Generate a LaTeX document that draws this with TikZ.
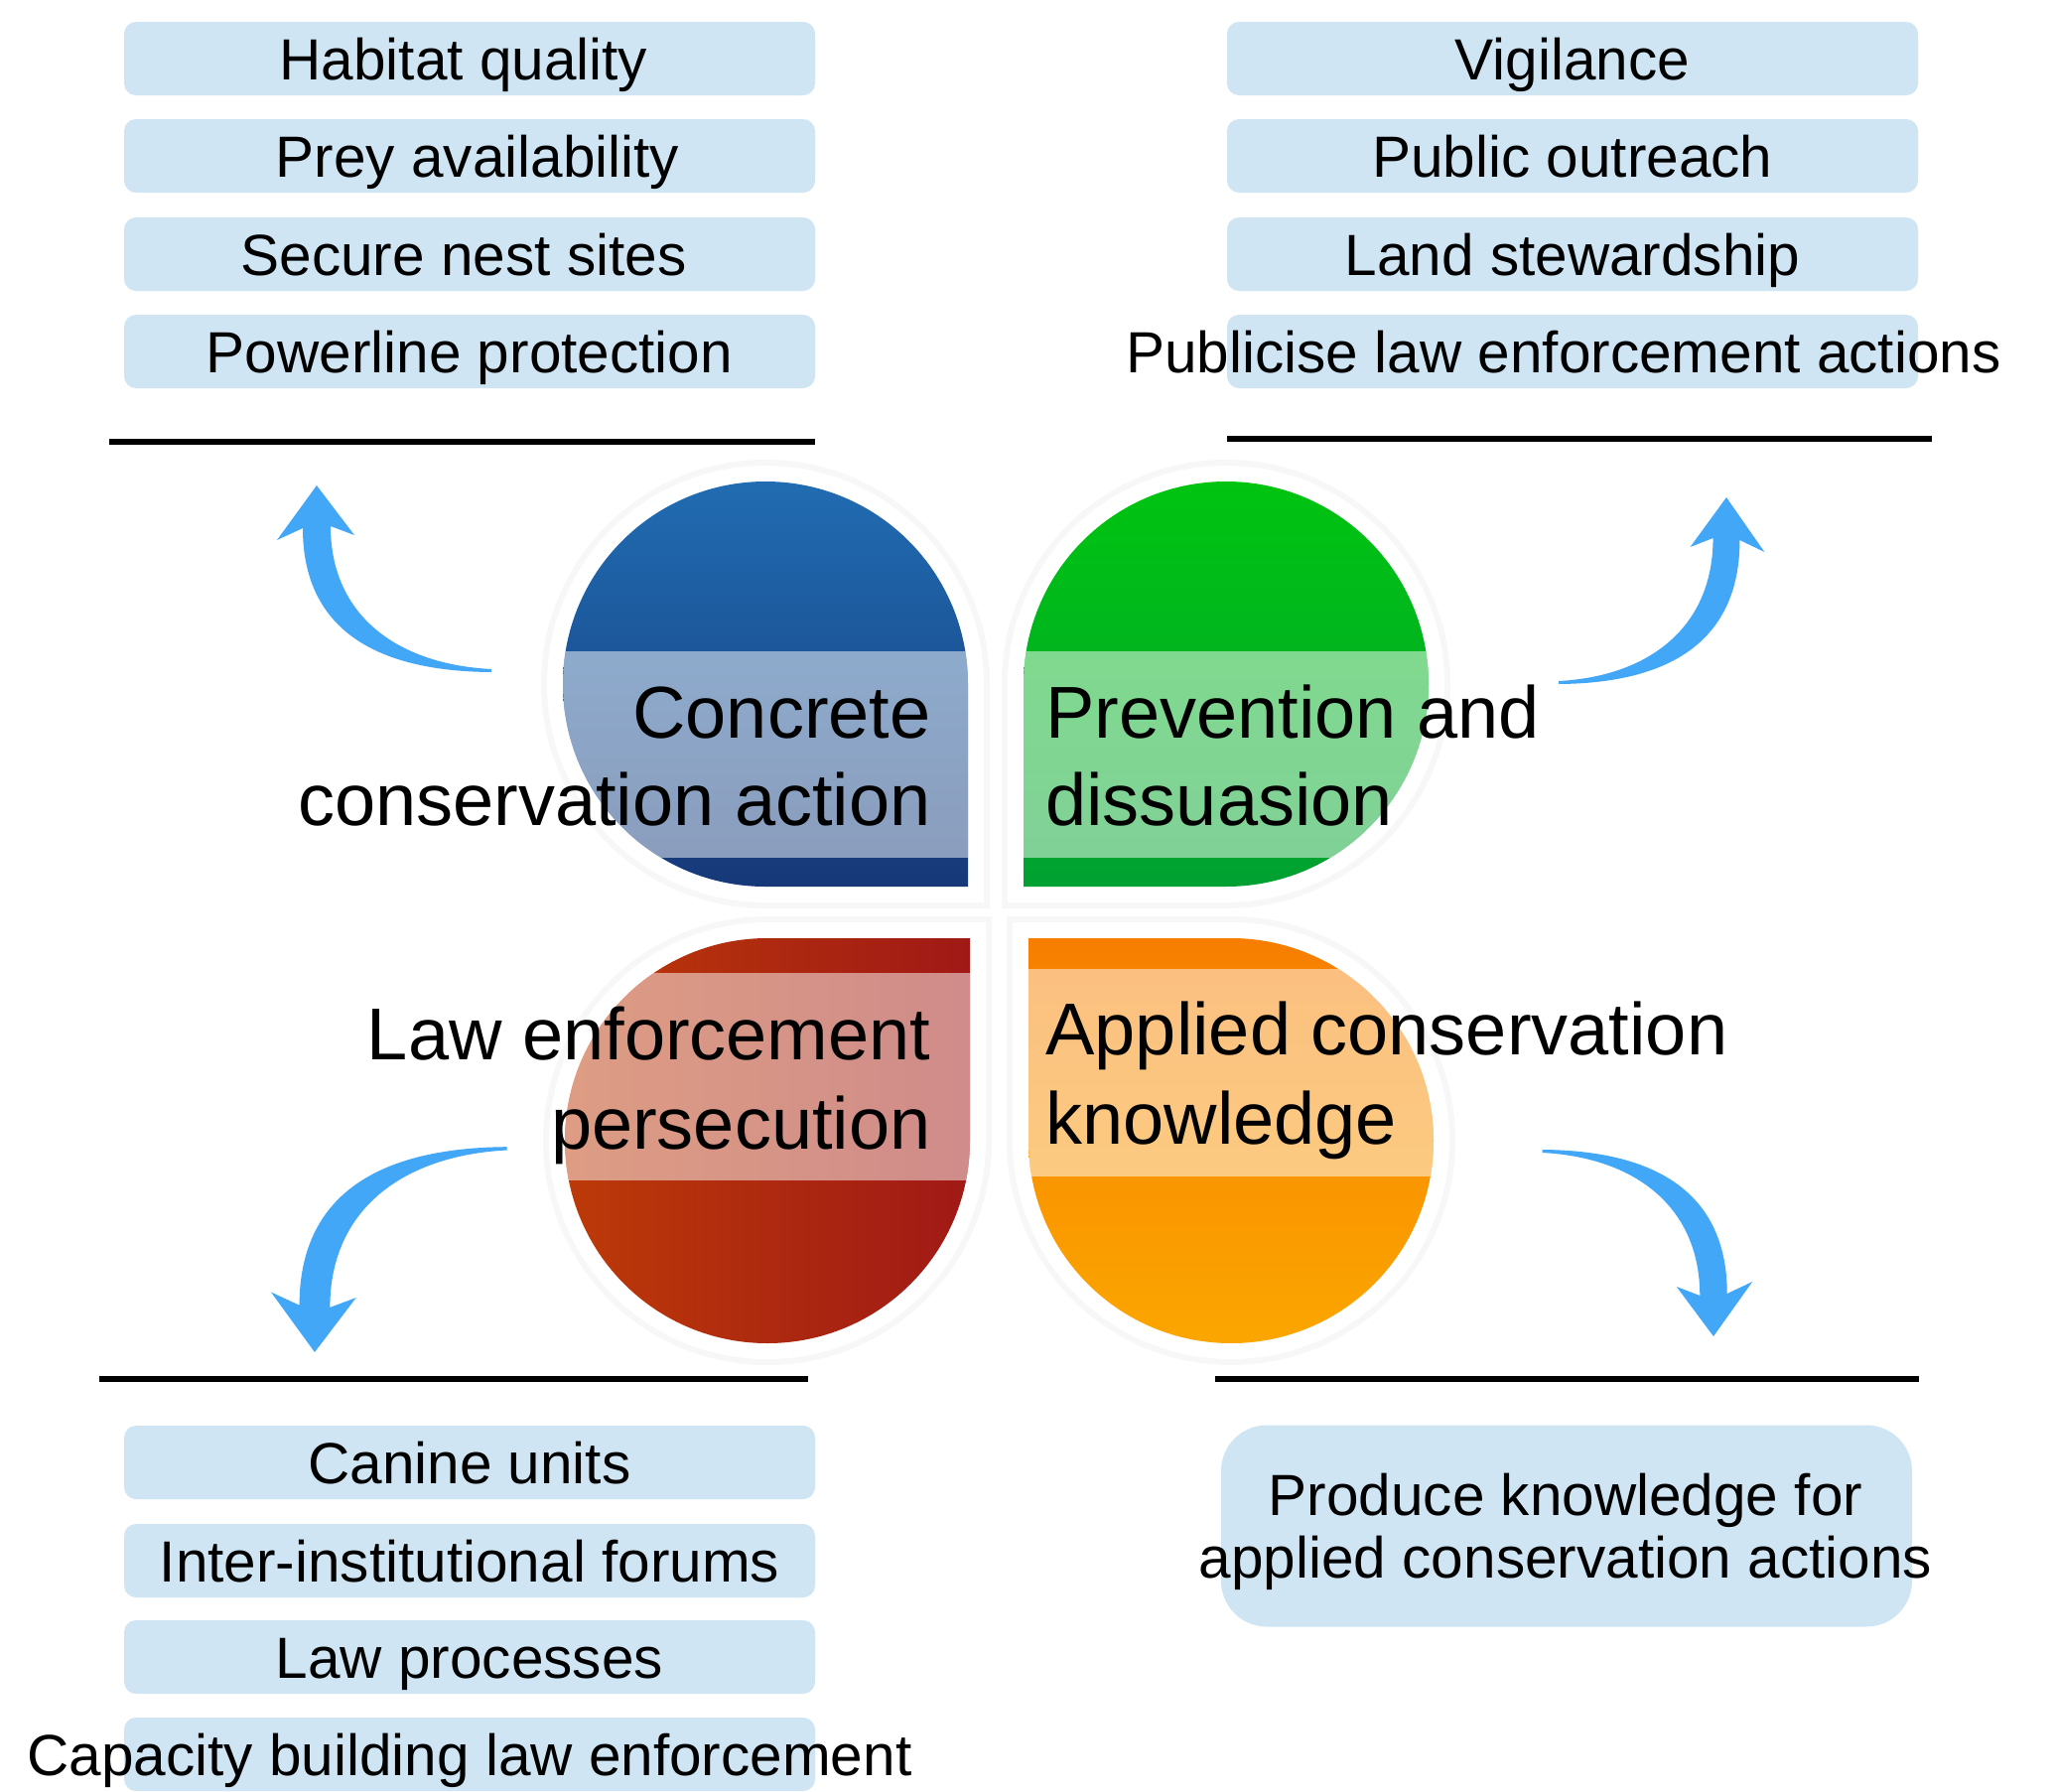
\documentclass[tikz,border=0pt]{standalone}
\usepackage{fontspec}
\setmainfont{Liberation Sans}
\definecolor{boxblue}{RGB}{207,229,243}
\definecolor{arrowblue}{RGB}{66,167,247}
\definecolor{bluetop}{RGB}{33,108,178}
\definecolor{bluebot}{RGB}{22,56,120}
\definecolor{greentop}{RGB}{0,196,16}
\definecolor{greenbot}{RGB}{0,160,50}
\definecolor{redleft}{RGB}{188,58,8}
\definecolor{redright}{RGB}{160,25,22}
\definecolor{orangetop}{RGB}{247,126,0}
\definecolor{orangebot}{RGB}{251,166,0}
% petal: centre x, centre y, radius, sx, sy (square corner direction)
\newcommand\petalpath[5]{(#1+#4*#3,#2) -- (#1+#4*#3,#2+#5*#3) -- (#1,#2+#5*#3) arc[start angle={90*#5}, delta angle={270*#4*#5}, radius=#3] -- cycle}
\newcommand\arrowshape{(-14,43) -- (-40,55) -- (0,0) -- (38,50) -- (14,41) .. controls (14,130) and (80,180) .. (176,185) -- (176,188) .. controls (40,187) and (-14,130) .. (-14,43) -- cycle}
\tikzset{
  box/.style={fill=boxblue, rounded corners=6pt, minimum width=348pt, minimum height=37pt, inner sep=0pt},
  boxtext/.style={font=\fontsize{29.25pt}{31.5pt}\selectfont, inner sep=0pt, text height=21.5pt, text depth=0.5pt},
  petaltext/.style={font=\fontsize{37pt}{44pt}\selectfont, inner sep=0pt},
  rule/.style={line width=2.8pt, black},
  band/.style={fill=white, opacity=0.5},
  halo/.style={fill=black!3},
  arrowfill/.style={fill=arrowblue}
}
\begin{document}
\begin{tikzpicture}[x=0.5pt, y=-0.5pt]
\useasboundingbox (0,0) rectangle (2069,1805);
\fill[white] (0,0) rectangle (2069,1805);

% ---------- halos ----------
\fill[halo] \petalpath{771}{689}{226}{1}{1};
\fill[halo] \petalpath{1235}{689}{226}{-1}{1};
\fill[halo] \petalpath{773}{1149}{226}{1}{-1};
\fill[halo] \petalpath{1240}{1149}{226}{-1}{-1};
\fill[white] \petalpath{771}{689}{220}{1}{1};
\fill[white] \petalpath{1235}{689}{220}{-1}{1};
\fill[white] \petalpath{773}{1149}{220}{1}{-1};
\fill[white] \petalpath{1240}{1149}{220}{-1}{-1};

% ---------- petals ----------
\shade[top color=bluetop, bottom color=bluebot] \petalpath{771}{689}{204}{1}{1};
\begin{scope}
  \clip \petalpath{771}{689}{204}{1}{1};
  \fill[band] (500,656) rectangle (1000,864);
\end{scope}
\shade[top color=greentop, bottom color=greenbot] \petalpath{1235}{689}{204}{-1}{1};
\begin{scope}
  \clip \petalpath{1235}{689}{204}{-1}{1};
  \fill[band] (1000,656) rectangle (1500,864);
\end{scope}
\shade[left color=redleft, right color=redright] \petalpath{773}{1149}{204}{1}{-1};
\begin{scope}
  \clip \petalpath{773}{1149}{204}{1}{-1};
  \fill[band] (500,980) rectangle (1000,1189);
\end{scope}
\shade[top color=orangetop, bottom color=orangebot] \petalpath{1240}{1149}{204}{-1}{-1};
\begin{scope}
  \clip \petalpath{1240}{1149}{204}{-1}{-1};
  \fill[band] (1000,976) rectangle (1500,1185);
\end{scope}

% ---------- petal texts ----------
\node[petaltext, anchor=base east] (cc1) at (938,743) {Concrete};
\node[petaltext, anchor=base east] (cc2) at (938,831) {conservation action};
\node[petaltext, anchor=base west] (pd1) at (1053,743) {Prevention and};
\node[petaltext, anchor=base west] (pd2) at (1053,831) {dissuasion};
\node[petaltext, anchor=base east] (le1) at (938,1067) {Law enforcement};
\node[petaltext, anchor=base east] (le2) at (938,1157) {persecution};
\node[petaltext, anchor=base west] (ak1) at (1053,1062) {Applied conservation};
\node[petaltext, anchor=base west] (ak2) at (1053,1152) {knowledge};

% ---------- arrows ----------
\begin{scope}[shift={(319,489)}]
  \fill[arrowfill] \arrowshape;
\end{scope}
\begin{scope}[shift={(1739,501)}, xscale=-0.96]
  \fill[arrowfill] \arrowshape;
\end{scope}
\begin{scope}[shift={(317,1362)}, xscale=1.1, yscale=-1.1]
  \fill[arrowfill] \arrowshape;
\end{scope}
\begin{scope}[shift={(1726,1346)}, xscale=-0.98, yscale=-1]
  \fill[arrowfill] \arrowshape;
\end{scope}

% ---------- rules ----------
\coordinate (r1a) at (110,445); \coordinate (r1b) at (821,445);
\coordinate (r2a) at (1236,442); \coordinate (r2b) at (1946,442);
\coordinate (r3a) at (100,1389); \coordinate (r3b) at (814,1389);
\coordinate (r4a) at (1224,1389); \coordinate (r4b) at (1933,1389);
\draw[rule] (r1a) -- (r1b);
\draw[rule] (r2a) -- (r2b);
\draw[rule] (r3a) -- (r3b);
\draw[rule] (r4a) -- (r4b);

% ---------- top-left boxes ----------
\node[box] (a1) at (473,59) {};
\node[box] (a2) at (473,157) {};
\node[box] (a3) at (473,256) {};
\node[box] (a4) at (473,354) {};
\node[boxtext] at ([xshift=-3pt]a1.center) {Habitat quality};
\node[boxtext] at ([xshift=4pt]a2.center) {Prey availability};
\node[boxtext] at ([xshift=-3pt]a3.center) {Secure nest sites};
\node[boxtext] at (a4.center) {Powerline protection};

% ---------- top-right boxes ----------
\node[box] (b1) at (1584,59) {};
\node[box] (b2) at (1584,157) {};
\node[box] (b3) at (1584,256) {};
\node[box] (b4) at (1584,354) {};
\node[boxtext] at (b1.center) {Vigilance};
\node[boxtext] at (b2.center) {Public outreach};
\node[boxtext] at (b3.center) {Land stewardship};
\node[boxtext] at ([xshift=-4.5pt]b4.center) {Publicise law enforcement actions};

% ---------- bottom-left boxes ----------
\node[box] (c1) at (473,1473) {};
\node[box] (c2) at (473,1572) {};
\node[box] (c3) at (473,1669) {};
\node[box] (c4) at (473,1767) {};
\node[boxtext] at (c1.center) {Canine units};
\node[boxtext] at (c2.center) {Inter-institutional forums};
\node[boxtext] at (c3.center) {Law processes};
\node[boxtext] at (c4.center) {Capacity building law enforcement};

% ---------- bottom-right box ----------
\node[box, rounded corners=23pt, minimum height=101.5pt] (d1) at (1578,1537) {};
\node[font=\fontsize{29.25pt}{31.5pt}\selectfont, inner sep=0pt, align=center] (d1t) at (1577,1543) {Produce knowledge for\\applied conservation actions};
\end{tikzpicture}
\end{document}
